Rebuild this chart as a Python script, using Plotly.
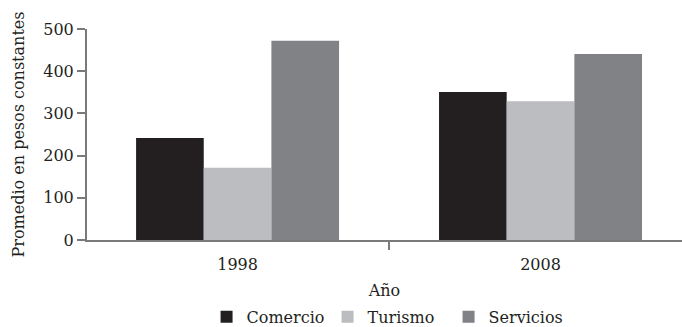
import plotly.graph_objects as go

# Average income in constant pesos, by sector and year
years = ["1998", "2008"]
sectors = ["Comercio", "Turismo", "Servicios"]
comercio = [242, 351]
turismo = [171, 329]
servicios = [472, 441]
series_values = [comercio, turismo, servicios]
colors = ["#231f20", "#bcbdc0", "#818285"]

y_ticks = [0, 100, 200, 300, 400, 500]

FONT = "DejaVu Serif"
TEXT = "#231f20"
AXIS = "#7a7a7c"

fig = go.Figure()
for name, vals, col in zip(sectors, series_values, colors):
    fig.add_trace(go.Bar(x=years, y=vals, name=name, marker=dict(color=col, line=dict(width=0))))

fig.update_layout(
    width=682,
    height=327,
    margin=dict(l=87, r=0, t=29, b=87, autoexpand=False),
    paper_bgcolor="white",
    plot_bgcolor="white",
    barmode="group",
    bargap=0.33,
    bargroupgap=0,
    font=dict(family=FONT, size=16, color=TEXT),
    showlegend=True,
    legend=dict(
        orientation="h",
        x=0.506,
        xanchor="center",
        yref="container",
        y=0.031,
        yanchor="middle",
        font=dict(family=FONT, size=16, color=TEXT),
        entrywidth=76,
        entrywidthmode="pixels",
        traceorder="normal",
    ),
    xaxis=dict(
        type="category",
        range=[-0.497, 1.467],
        automargin=False,
        showline=True,
        linecolor=AXIS,
        linewidth=2,
        ticks="outside",
        tickson="boundaries",
        ticklen=8,
        tickwidth=1.5,
        tickcolor=AXIS,
        ticklabelstandoff=9,
        showgrid=False,
        zeroline=False,
        title=dict(text="Año", standoff=21, font=dict(family=FONT, size=16, color=TEXT)),
    ),
    yaxis=dict(
        range=[0, 500],
        tickvals=y_ticks,
        automargin=False,
        showline=True,
        linecolor=AXIS,
        linewidth=2,
        ticks="outside",
        ticklen=8,
        tickwidth=1.5,
        tickcolor=AXIS,
        showgrid=False,
        zeroline=False,
        title=dict(text="Promedio en pesos constantes", standoff=15, font=dict(family=FONT, size=16, color=TEXT)),
    ),
)

fig.write_html("out.html")
